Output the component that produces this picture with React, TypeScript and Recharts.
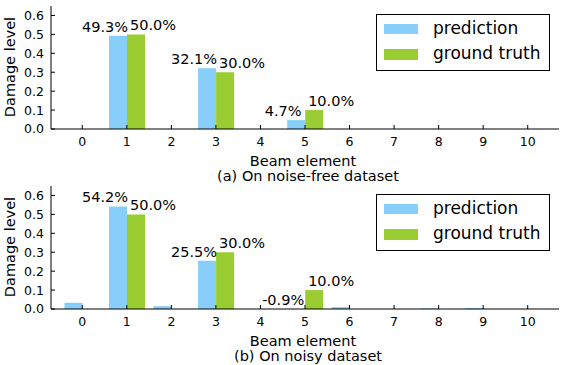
import React from "react";
import { BarChart, Bar, XAxis, YAxis, Legend, LabelList } from "recharts";

const elements = ["0", "1", "2", "3", "4", "5", "6", "7", "8", "9", "10"];

// (a) noise-free dataset
const predictionNoiseFree = [0, 0.493, 0, 0.321, 0, 0.047, 0, 0, 0, 0, 0];
const truthNoiseFree = [0, 0.5, 0, 0.3, 0, 0.1, 0, 0, 0, 0, 0];

// (b) noisy dataset
const predictionNoisy = [0.033, 0.542, 0.015, 0.255, 0, -0.009, 0.01, 0, 0.003, 0.005, 0];
const truthNoisy = [0, 0.5, 0, 0.3, 0, 0.1, 0, 0, 0, 0, 0];

// elements that carry a percentage label
const labeledElements = [1, 3, 5];

const yTicks = [0, 0.1, 0.2, 0.3, 0.4, 0.5, 0.6];

const FONT = "'DejaVu Sans', sans-serif";
const BLUE = "#87CEFA";
const GREEN = "#9ACD32";

const pct = (v: number) => `${(v * 100).toFixed(1)}%`;

// label text sits a little off the bar centre, like the original
const makeLabel = (shift: number) => (props: any) => {
  const { x, y, width, height, value } = props;
  if (value === null || value === undefined || value === "") return null;
  const top = Math.min(y, y + height);
  return (
    <text
      x={x + width / 2 + shift}
      y={top - 4}
      textAnchor="middle"
      fontFamily={FONT}
      fontSize={14.5}
      fill="#000"
    >
      {value}
    </text>
  );
};

const LegendBox = () => (
  <svg width={175} height={58}>
    <rect x={0.5} y={0.5} width={173} height={56} fill="#fff" stroke="#000" />
    <rect x={8} y={10} width={34} height={10} fill={BLUE} />
    <rect x={8} y={35} width={34} height={11} fill={GREEN} />
    <text x={57} y={20} fontFamily={FONT} fontSize={17} fill="#000">
      prediction
    </text>
    <text x={57} y={45} fontFamily={FONT} fontSize={17} fill="#000">
      ground truth
    </text>
  </svg>
);

function Panel({
  prediction,
  truth,
  caption,
}: {
  prediction: number[];
  truth: number[];
  caption: string;
}) {
  const data = elements.map((el, i) => {
    const labeled = labeledElements.includes(i);
    return {
      el,
      prediction: prediction[i],
      truth: truth[i],
      predictionLabel: labeled ? pct(prediction[i]) : null,
      truthLabel: labeled ? pct(truth[i]) : null,
    };
  });
  const axisLine = { stroke: "#000", strokeWidth: 1 };
  const tickLine = { stroke: "#000", strokeWidth: 1 };
  const tickStyle = { fill: "#000", fontFamily: FONT, fontSize: 12.5 };
  const textStyle = { fontFamily: FONT, fontSize: 14.5, color: "#000", lineHeight: "15px" };

  return (
    <div style={{ position: "relative", width: 563, height: 182 }}>
      <BarChart
        width={563}
        height={180}
        data={data}
        margin={{ top: 6, right: 4, bottom: 0, left: 0 }}
        barGap={0}
        barCategoryGap="10%"
      >
        <XAxis
          dataKey="el"
          height={51}
          padding={{ left: 9, right: 9 }}
          tickSize={-4}
          tickMargin={12}
          axisLine={axisLine}
          tickLine={tickLine}
          tick={tickStyle}
          interval={0}
        />
        <XAxis
          xAxisId="top"
          dataKey="el"
          orientation="top"
          height={0}
          padding={{ left: 9, right: 9 }}
          tickSize={-4}
          axisLine={axisLine}
          tickLine={tickLine}
          tick={false}
          interval={0}
        />
        <YAxis
          width={51}
          domain={[0, 0.65]}
          ticks={yTicks}
          allowDataOverflow
          tickFormatter={(v: number) => v.toFixed(1)}
          tickSize={-4}
          tickMargin={11}
          axisLine={axisLine}
          tickLine={tickLine}
          tick={tickStyle}
          interval={0}
        />
        <YAxis
          yAxisId="right"
          orientation="right"
          width={0}
          domain={[0, 0.65]}
          ticks={yTicks}
          allowDataOverflow
          tickSize={-4}
          axisLine={axisLine}
          tickLine={tickLine}
          tick={false}
          interval={0}
        />
        <Legend
          layout="horizontal"
          verticalAlign="middle"
          align="center"
          wrapperStyle={{ left: 376, top: 14, width: 175, height: 58 }}
          content={() => <LegendBox />}
        />
        <Bar dataKey="prediction" name="prediction" fill={BLUE} isAnimationActive={false}>
          <LabelList dataKey="predictionLabel" content={makeLabel(-13)} />
        </Bar>
        <Bar dataKey="truth" name="ground truth" fill={GREEN} isAnimationActive={false}>
          <LabelList dataKey="truthLabel" content={makeLabel(17)} />
        </Bar>
      </BarChart>
      {/* axis titles */}
      <div
        style={{
          ...textStyle,
          position: "absolute",
          left: 10,
          top: 67,
          transform: "translate(-50%, -50%) rotate(-90deg)",
          whiteSpace: "nowrap",
        }}
      >
        Damage level
      </div>
      <div
        style={{
          ...textStyle,
          position: "absolute",
          left: 0,
          width: 606,
          top: 154,
          textAlign: "center",
          whiteSpace: "nowrap",
        }}
      >
        Beam element
      </div>
      <div
        style={{
          ...textStyle,
          position: "absolute",
          left: 0,
          width: 616,
          top: 169,
          textAlign: "center",
          whiteSpace: "nowrap",
        }}
      >
        {caption}
      </div>
    </div>
  );
}

export default function App() {
  return (
    <div
      style={{
        position: "absolute",
        left: 0,
        top: 0,
        width: 563,
        height: 365,
        background: "#fff",
        overflow: "hidden",
      }}
    >
      <div style={{ position: "absolute", left: 0, top: 0 }}>
        <Panel
          prediction={predictionNoiseFree}
          truth={truthNoiseFree}
          caption="(a) On noise-free dataset"
        />
      </div>
      <div style={{ position: "absolute", left: 0, top: 180 }}>
        <Panel prediction={predictionNoisy} truth={truthNoisy} caption="(b) On noisy dataset" />
      </div>
    </div>
  );
}
